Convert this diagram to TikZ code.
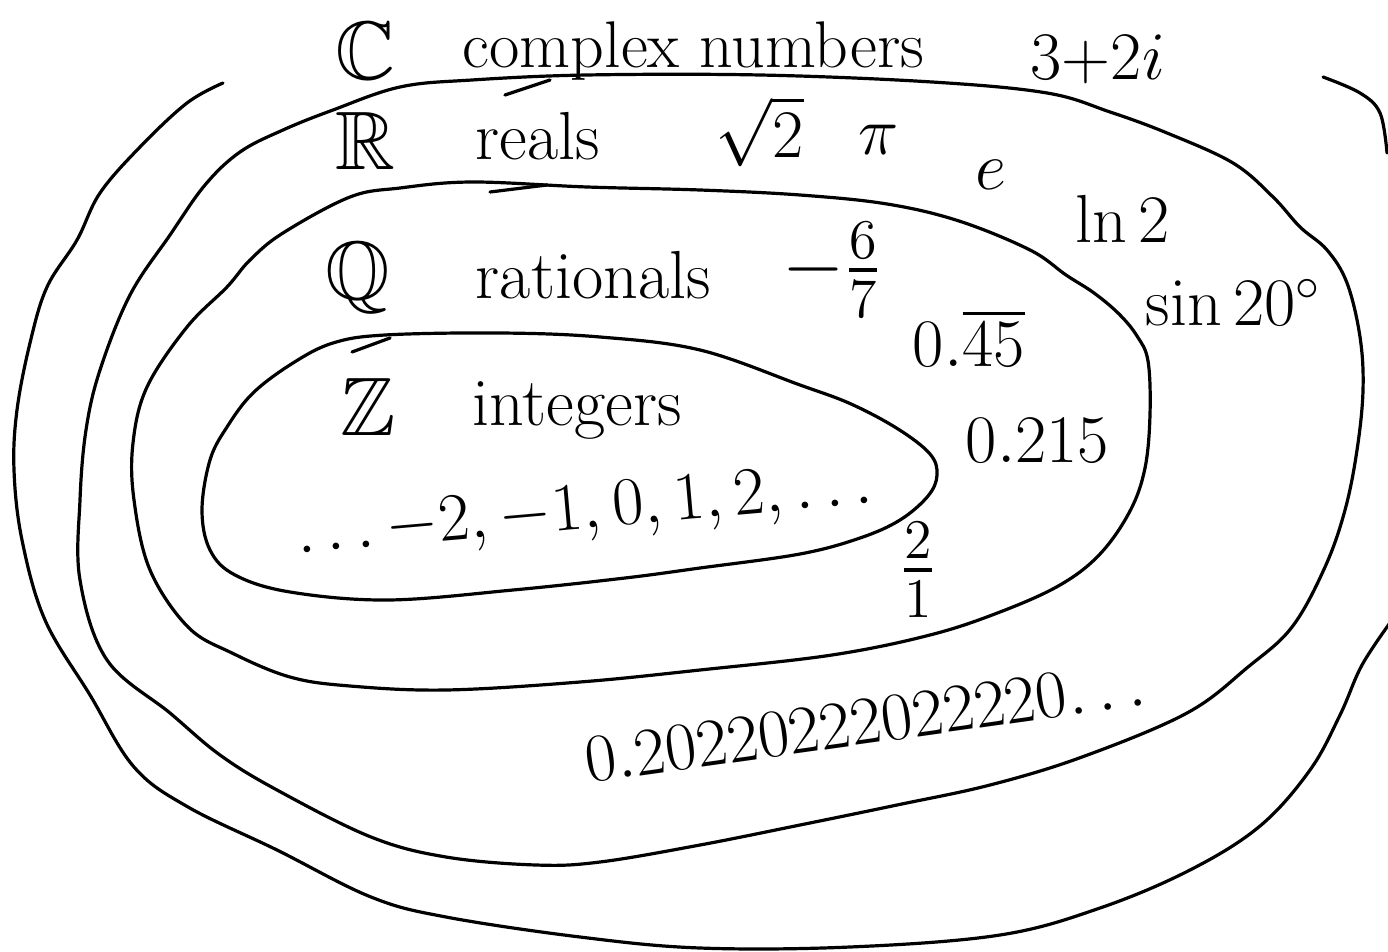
\RequirePackage{fix-cm}
\documentclass[tikz,border=0pt]{standalone}
\usepackage{amssymb}
\begin{document}
\begin{tikzpicture}[x=0.25pt,y=-0.25pt,
  curve/.style={line width=0.8pt, line join=round, line cap=round},
  lbl/.style={inner sep=0pt, font=\fontsize{17}{20}\selectfont},
  frc/.style={inner sep=0pt, font=\fontsize{20}{24}\selectfont},
  bb/.style={inner sep=0pt, font=\fontsize{20.74}{24}\selectfont}]
\useasboundingbox (0,0) rectangle (1388,951);
\clip (0,0) rectangle (1388,951);
% complex numbers (outer, open)
\draw[curve] plot[smooth, tension=0.6] coordinates {(223,83) (187,103) (140,147) (100,193) (77,240) (47,287) (30,343) (17,410) (14,470) (22,540) (45,620) (90,695) (134,767) (188,807) (277,850) (371,897) (446,917) (580,937) (700,948) (850,947) (1000,935) (1100,908) (1190,870) (1260,826) (1310,770) (1340,715) (1362,665) (1392,620)};
\draw[curve] plot[smooth, tension=0.6] coordinates {(1323,77) (1360,93) (1380,113) (1387,153)};
% reals
\draw[curve] plot[smooth cycle, tension=0.6] coordinates {(400,87) (472,80) (587,75) (760,75) (932,82) (1047,93) (1110,112) (1167,133) (1233,163) (1273,197) (1300,227) (1327,250) (1347,283) (1360,337) (1363,390) (1357,450) (1345,510) (1325,567) (1292,627) (1248,667) (1187,713) (1082,757) (990,785) (897,805) (800,825) (700,845) (600,862) (536,865) (446,857) (371,837) (277,790) (220,755) (170,713) (107,660) (80,580) (80,500) (86,430) (100,370) (130,295) (170,235) (205,185) (240,152) (283,130) (333,110)};
\draw[curve] (505,95) -- (550,80);
% rationals
\draw[curve] plot[smooth cycle, tension=0.6] coordinates {(400,188) (472,182) (587,187) (700,190) (800,195) (887,204) (959,221) (1030,250) (1066,275) (1094,293) (1119,314) (1137,336) (1148,361) (1150,414) (1145,468) (1130,511) (1100,554) (1060,585) (1000,612) (930,635) (832,655) (700,670) (580,682) (446,690) (350,686) (290,677) (232,653) (188,627) (150,570) (134,500) (133,443) (147,387) (187,327) (227,287) (250,260) (283,233) (350,197)};
\draw[curve] (490,192) -- (547,185);
% integers
\draw[curve] plot[smooth cycle, tension=0.6] coordinates {(385,335) (500,333) (600,337) (700,350) (800,385) (851,404) (898,429) (930,454) (937,475) (928,496) (900,520) (860,538) (800,554) (700,568) (625,578) (513,590) (388,600) (290,592) (235,575) (210,550) (202,510) (210,460) (227,427) (253,393) (293,363) (333,343)};
\draw[curve] (352,352) -- (390,338);
% labels
\node[bb, anchor=base west] (Cset) at (335,80) {$\mathbb{C}$};
\node[lbl, anchor=base west, font=\fontsize{16.5}{20}\selectfont] (Cname) at (462,68) {complex numbers};
\node[lbl, anchor=base west] (Cex) at (1030,80) {$3{+}2i$};
\node[bb, anchor=base west] (Rset) at (335,170) {$\mathbb{R}$};
\node[lbl, anchor=base west] (Rname) at (475,160) {reals};
\node[lbl, anchor=base west] (sqrt) at (715,158) {$\sqrt{2}$};
\node[lbl, anchor=base west] (pi) at (858,155) {$\pi$};
\node[lbl, anchor=base west] (euler) at (975,190) {$e$};
\node[lbl, anchor=base west] (ln) at (1075,243) {$\ln 2$};
\node[lbl, anchor=base west] (sin) at (1145,325) {$\sin 20^\circ$};
\node[bb, anchor=base west] (Qset) at (325,300) {$\mathbb{Q}$};
\node[lbl, anchor=base west] (Qname) at (475,298) {rationals};
\node[frc] (frac) at (832,270) {${-}\frac{6}{7}$};
\node[lbl, anchor=base west] (rep) at (912,367) {$0.\overline{45}$};
\node[bb, anchor=base west] (Zset) at (340,435) {$\mathbb{Z}$};
\node[lbl, anchor=base west] (Zname) at (472,425) {integers};
\node[lbl, rotate=5] (Zex) at (585,513) {$\ldots{-}2, {-}1, 0, 1, 2, \ldots$};
\node[lbl, anchor=base west] (dec) at (965,462) {$0.215$};
\node[frc] (two) at (918,570) {$\frac{2}{1}$};
\node[lbl, rotate=8] (irr) at (865,722) {$0.20220222022220{\ldots}$};
\end{tikzpicture}
\end{document}
